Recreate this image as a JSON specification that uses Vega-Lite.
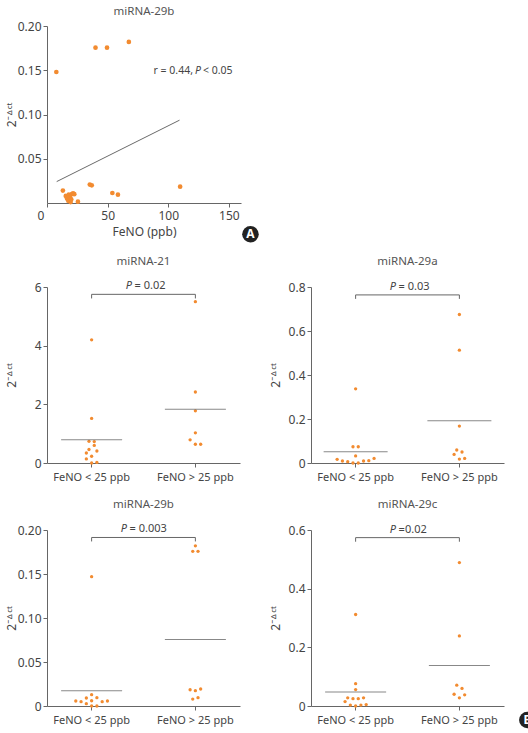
{
  "$schema": "https://vega.github.io/schema/vega-lite/v6.json",
  "datasets": {
    "a": [
      {"feno": 7.7, "v": 0.148}, {"feno": 40, "v": 0.1755}, {"feno": 49.5, "v": 0.1755}, {"feno": 67.5, "v": 0.182},
      {"feno": 13.1, "v": 0.014}, {"feno": 35.3, "v": 0.0208}, {"feno": 36.9, "v": 0.02}, {"feno": 53.9, "v": 0.0113},
      {"feno": 58.5, "v": 0.0094}, {"feno": 109.8, "v": 0.0185}, {"feno": 25.5, "v": 0.0015},
      {"feno": 15.5, "v": 0.008}, {"feno": 16.5, "v": 0.005}, {"feno": 17.5, "v": 0.0025}, {"feno": 18, "v": 0.0095},
      {"feno": 19, "v": 0.006}, {"feno": 19.5, "v": 0.001}, {"feno": 20.5, "v": 0.01}, {"feno": 21.5, "v": 0.011},
      {"feno": 22.5, "v": 0.01}, {"feno": 20, "v": 0.004}
    ],
    "pts": [
      {"m": "miRNA-21", "grp": "FeNO < 25 ppb", "col": 0, "v": 4.2}, {"m": "miRNA-21", "grp": "FeNO < 25 ppb", "col": 0, "v": 1.52},
      {"m": "miRNA-21", "grp": "FeNO < 25 ppb", "col": -1, "v": 0.74}, {"m": "miRNA-21", "grp": "FeNO < 25 ppb", "col": 1, "v": 0.73},
      {"m": "miRNA-21", "grp": "FeNO < 25 ppb", "col": 1, "v": 0.6}, {"m": "miRNA-21", "grp": "FeNO < 25 ppb", "col": -1, "v": 0.46},
      {"m": "miRNA-21", "grp": "FeNO < 25 ppb", "col": -2, "v": 0.34}, {"m": "miRNA-21", "grp": "FeNO < 25 ppb", "col": 2, "v": 0.41},
      {"m": "miRNA-21", "grp": "FeNO < 25 ppb", "col": 0, "v": 0.23}, {"m": "miRNA-21", "grp": "FeNO < 25 ppb", "col": -2, "v": 0.14},
      {"m": "miRNA-21", "grp": "FeNO < 25 ppb", "col": 2, "v": 0.02}, {"m": "miRNA-21", "grp": "FeNO < 25 ppb", "col": 0, "v": 0},
      {"m": "miRNA-21", "grp": "FeNO > 25 ppb", "col": 0, "v": 5.5}, {"m": "miRNA-21", "grp": "FeNO > 25 ppb", "col": 0, "v": 2.42},
      {"m": "miRNA-21", "grp": "FeNO > 25 ppb", "col": 0, "v": 1.78}, {"m": "miRNA-21", "grp": "FeNO > 25 ppb", "col": 0, "v": 1.03},
      {"m": "miRNA-21", "grp": "FeNO > 25 ppb", "col": -2, "v": 0.79}, {"m": "miRNA-21", "grp": "FeNO > 25 ppb", "col": 0, "v": 0.64},
      {"m": "miRNA-21", "grp": "FeNO > 25 ppb", "col": 2, "v": 0.64},
      {"m": "miRNA-29a", "grp": "FeNO < 25 ppb", "col": 0, "v": 0.337}, {"m": "miRNA-29a", "grp": "FeNO < 25 ppb", "col": -1, "v": 0.074},
      {"m": "miRNA-29a", "grp": "FeNO < 25 ppb", "col": 1, "v": 0.074}, {"m": "miRNA-29a", "grp": "FeNO < 25 ppb", "col": 0, "v": 0.032},
      {"m": "miRNA-29a", "grp": "FeNO < 25 ppb", "col": -7, "v": 0.0166}, {"m": "miRNA-29a", "grp": "FeNO < 25 ppb", "col": -5, "v": 0.009},
      {"m": "miRNA-29a", "grp": "FeNO < 25 ppb", "col": -3, "v": 0.006}, {"m": "miRNA-29a", "grp": "FeNO < 25 ppb", "col": -1, "v": 0},
      {"m": "miRNA-29a", "grp": "FeNO < 25 ppb", "col": 1, "v": 0}, {"m": "miRNA-29a", "grp": "FeNO < 25 ppb", "col": 3, "v": 0.009},
      {"m": "miRNA-29a", "grp": "FeNO < 25 ppb", "col": 5, "v": 0.0106}, {"m": "miRNA-29a", "grp": "FeNO < 25 ppb", "col": 7, "v": 0.021},
      {"m": "miRNA-29a", "grp": "FeNO > 25 ppb", "col": 0, "v": 0.675}, {"m": "miRNA-29a", "grp": "FeNO > 25 ppb", "col": 0, "v": 0.513},
      {"m": "miRNA-29a", "grp": "FeNO > 25 ppb", "col": 0, "v": 0.168}, {"m": "miRNA-29a", "grp": "FeNO > 25 ppb", "col": -1, "v": 0.059},
      {"m": "miRNA-29a", "grp": "FeNO > 25 ppb", "col": 1, "v": 0.05}, {"m": "miRNA-29a", "grp": "FeNO > 25 ppb", "col": -2, "v": 0.039},
      {"m": "miRNA-29a", "grp": "FeNO > 25 ppb", "col": 0, "v": 0.018}, {"m": "miRNA-29a", "grp": "FeNO > 25 ppb", "col": 2, "v": 0.021},
      {"m": "miRNA-29b", "grp": "FeNO < 25 ppb", "col": 0, "v": 0.147}, {"m": "miRNA-29b", "grp": "FeNO < 25 ppb", "col": 0, "v": 0.0129},
      {"m": "miRNA-29b", "grp": "FeNO < 25 ppb", "col": -2, "v": 0.0091}, {"m": "miRNA-29b", "grp": "FeNO < 25 ppb", "col": 2, "v": 0.0095},
      {"m": "miRNA-29b", "grp": "FeNO < 25 ppb", "col": 0, "v": 0.006}, {"m": "miRNA-29b", "grp": "FeNO < 25 ppb", "col": -6, "v": 0.0057},
      {"m": "miRNA-29b", "grp": "FeNO < 25 ppb", "col": -4, "v": 0.0049}, {"m": "miRNA-29b", "grp": "FeNO < 25 ppb", "col": -2, "v": 0.0026},
      {"m": "miRNA-29b", "grp": "FeNO < 25 ppb", "col": 4, "v": 0.0049}, {"m": "miRNA-29b", "grp": "FeNO < 25 ppb", "col": 6, "v": 0.0057},
      {"m": "miRNA-29b", "grp": "FeNO < 25 ppb", "col": 0, "v": 0}, {"m": "miRNA-29b", "grp": "FeNO < 25 ppb", "col": 2, "v": 0},
      {"m": "miRNA-29b", "grp": "FeNO > 25 ppb", "col": 0, "v": 0.182}, {"m": "miRNA-29b", "grp": "FeNO > 25 ppb", "col": -1, "v": 0.1758},
      {"m": "miRNA-29b", "grp": "FeNO > 25 ppb", "col": 1, "v": 0.1758}, {"m": "miRNA-29b", "grp": "FeNO > 25 ppb", "col": -2, "v": 0.0185},
      {"m": "miRNA-29b", "grp": "FeNO > 25 ppb", "col": 0, "v": 0.0174}, {"m": "miRNA-29b", "grp": "FeNO > 25 ppb", "col": 2, "v": 0.0193},
      {"m": "miRNA-29b", "grp": "FeNO > 25 ppb", "col": -1, "v": 0.0079}, {"m": "miRNA-29b", "grp": "FeNO > 25 ppb", "col": 1, "v": 0.0095},
      {"m": "miRNA-29c", "grp": "FeNO < 25 ppb", "col": 0, "v": 0.312}, {"m": "miRNA-29c", "grp": "FeNO < 25 ppb", "col": 0, "v": 0.076},
      {"m": "miRNA-29c", "grp": "FeNO < 25 ppb", "col": 0, "v": 0.056}, {"m": "miRNA-29c", "grp": "FeNO < 25 ppb", "col": -3, "v": 0.028},
      {"m": "miRNA-29c", "grp": "FeNO < 25 ppb", "col": -1, "v": 0.025}, {"m": "miRNA-29c", "grp": "FeNO < 25 ppb", "col": 1, "v": 0.025},
      {"m": "miRNA-29c", "grp": "FeNO < 25 ppb", "col": 3, "v": 0.028}, {"m": "miRNA-29c", "grp": "FeNO < 25 ppb", "col": -4, "v": 0.015},
      {"m": "miRNA-29c", "grp": "FeNO < 25 ppb", "col": -2, "v": 0.003}, {"m": "miRNA-29c", "grp": "FeNO < 25 ppb", "col": 0, "v": 0},
      {"m": "miRNA-29c", "grp": "FeNO < 25 ppb", "col": 2, "v": 0.003}, {"m": "miRNA-29c", "grp": "FeNO < 25 ppb", "col": 4, "v": 0.005},
      {"m": "miRNA-29c", "grp": "FeNO > 25 ppb", "col": 0, "v": 0.489}, {"m": "miRNA-29c", "grp": "FeNO > 25 ppb", "col": 0, "v": 0.239},
      {"m": "miRNA-29c", "grp": "FeNO > 25 ppb", "col": -1, "v": 0.071}, {"m": "miRNA-29c", "grp": "FeNO > 25 ppb", "col": 1, "v": 0.06},
      {"m": "miRNA-29c", "grp": "FeNO > 25 ppb", "col": -2, "v": 0.04}, {"m": "miRNA-29c", "grp": "FeNO > 25 ppb", "col": 2, "v": 0.038},
      {"m": "miRNA-29c", "grp": "FeNO > 25 ppb", "col": 0, "v": 0.028}
    ],
    "means": [
      {"m": "miRNA-21", "grp": "FeNO < 25 ppb", "v": 0.79}, {"m": "miRNA-21", "grp": "FeNO > 25 ppb", "v": 1.83},
      {"m": "miRNA-29a", "grp": "FeNO < 25 ppb", "v": 0.051}, {"m": "miRNA-29a", "grp": "FeNO > 25 ppb", "v": 0.192},
      {"m": "miRNA-29b", "grp": "FeNO < 25 ppb", "v": 0.0174}, {"m": "miRNA-29b", "grp": "FeNO > 25 ppb", "v": 0.0756},
      {"m": "miRNA-29c", "grp": "FeNO < 25 ppb", "v": 0.048}, {"m": "miRNA-29c", "grp": "FeNO > 25 ppb", "v": 0.138}
    ],
    "ann": [
      {"m": "miRNA-21", "top": 5.75, "bot": 5.61, "p": "= 0.02"},
      {"m": "miRNA-29a", "top": 0.764, "bot": 0.746, "p": "= 0.03"},
      {"m": "miRNA-29b", "top": 0.1915, "bot": 0.187, "p": "= 0.003"},
      {"m": "miRNA-29c", "top": 0.574, "bot": 0.56, "p": "=0.02"}
    ]
  },
  "config": {
    "view": {"stroke": null},
    "font": "Noto Sans",
    "axis": {"domainColor": "#666", "tickColor": "#666", "labelColor": "#444", "titleColor": "#444", "grid": false, "labelFontSize": 12, "tickSize": 4, "titleFontWeight": "normal", "titleFontSize": 12, "labelPadding": 2},
    "axisX": {"labelAngle": 0},
    "title": {"fontSize": 11.5, "fontWeight": "normal", "color": "#555"}
  },
  "spacing": 12,
  "vconcat": [
    {
      "width": 194, "height": 177,
      "title": {"text": "miRNA-29b", "offset": 3},
      "layer": [
        {"data": {"name": "a"}, "mark": {"type": "circle", "size": 22, "color": "#F28B30", "opacity": 1},
         "encoding": {
           "x": {"field": "feno", "type": "quantitative", "scale": {"domain": [0, 150]},
                 "axis": {"values": [0, 50, 100, 150], "title": "FeNO (ppb)", "labelPadding": 3, "titlePadding": 5,
                          "labelOffset": {"condition": {"test": "datum.value == 0", "value": -10}, "value": 0}}},
           "y": {"field": "v", "type": "quantitative", "scale": {"domain": [0, 0.2]},
                 "axis": {"values": [0.05, 0.1, 0.15, 0.2], "format": ".2f", "title": "2⁻ᐞᶜᵗ", "titleX": -32, "titleBaseline": "alphabetic"}}}},
        {"data": {"values": [{}]}, "mark": {"type": "rule", "color": "#444", "strokeWidth": 0.8},
         "encoding": {"x": {"datum": 8, "type": "quantitative"}, "x2": {"datum": 109.3}, "y": {"datum": 0.0242, "type": "quantitative"}, "y2": {"datum": 0.0936}}},
        {"data": {"values": [{}]}, "mark": {"type": "text", "text": "r = 0.44,", "align": "right", "dx": -5, "baseline": "middle", "fontSize": 10.5, "color": "#444"},
         "encoding": {"x": {"datum": 124.5, "type": "quantitative"}, "y": {"datum": 0.149, "type": "quantitative"}}},
        {"data": {"values": [{}]}, "mark": {"type": "text", "text": "P", "fontStyle": "italic", "align": "center", "baseline": "middle", "fontSize": 10.5, "color": "#444"},
         "encoding": {"x": {"datum": 124.5, "type": "quantitative"}, "y": {"datum": 0.149, "type": "quantitative"}}},
        {"data": {"values": [{}]}, "mark": {"type": "text", "text": "< 0.05", "align": "left", "dx": 5, "baseline": "middle", "fontSize": 10.5, "color": "#444"},
         "encoding": {"x": {"datum": 124.5, "type": "quantitative"}, "y": {"datum": 0.149, "type": "quantitative"}}},
        {"data": {"values": [{}]}, "mark": {"type": "circle", "size": 275, "color": "#222", "opacity": 1},
         "encoding": {"x": {"datum": 167.8, "type": "quantitative"}, "y": {"datum": -0.0353, "type": "quantitative"}}},
        {"data": {"values": [{}]}, "mark": {"type": "text", "text": "A", "fontWeight": "bold", "fontSize": 12, "color": "white", "align": "center", "baseline": "middle"},
         "encoding": {"x": {"datum": 167.8, "type": "quantitative"}, "y": {"datum": -0.0353, "type": "quantitative"}}}
      ]
    },
    {
      "spacing": 16,
      "vconcat": [
        {
          "spacing": 29,
          "hconcat": [
            {
              "width": 193, "height": 176,
              "title": {"text": "miRNA-21", "offset": 13},
              "layer": [
                {"data": {"name": "pts"}, "transform": [{"filter": "datum.m == 'miRNA-21'"}],
                 "mark": {"type": "circle", "size": 11, "color": "#F28B30", "opacity": 1},
                 "encoding": {
                   "x": {"field": "grp", "type": "nominal", "scale": {"type": "band", "paddingInner": 0.5, "paddingOuter": 0.18},
                         "axis": {"title": null, "labelFontSize": 11, "labelPadding": 4}},
                   "xOffset": {"field": "col", "type": "quantitative", "scale": {"domain": [-9.83, 9.83]}},
                   "y": {"field": "v", "type": "quantitative", "scale": {"domain": [0, 6]},
                         "axis": {"values": [0, 2, 4, 6], "title": "2⁻ᐞᶜᵗ", "titleX": -32, "titleBaseline": "alphabetic"}}}},
                {"data": {"name": "means"}, "transform": [{"filter": "datum.m == 'miRNA-21'"}],
                 "mark": {"type": "tick", "size": 61, "thickness": 1, "color": "#555"},
                 "encoding": {"x": {"field": "grp", "type": "nominal"}, "y": {"field": "v", "type": "quantitative"}}},
                {"data": {"name": "ann"}, "transform": [{"filter": "datum.m == 'miRNA-21'"}],
                 "mark": {"type": "rule", "color": "#666", "strokeWidth": 1},
                 "encoding": {"x": {"datum": "FeNO < 25 ppb", "type": "nominal"}, "x2": {"datum": "FeNO > 25 ppb"}, "y": {"field": "top", "type": "quantitative"}}},
                {"data": {"name": "ann"}, "transform": [{"filter": "datum.m == 'miRNA-21'"}],
                 "mark": {"type": "rule", "color": "#666", "strokeWidth": 1},
                 "encoding": {"x": {"datum": "FeNO < 25 ppb", "type": "nominal"}, "y": {"field": "top", "type": "quantitative"}, "y2": {"field": "bot"}}},
                {"data": {"name": "ann"}, "transform": [{"filter": "datum.m == 'miRNA-21'"}],
                 "mark": {"type": "rule", "color": "#666", "strokeWidth": 1},
                 "encoding": {"x": {"datum": "FeNO > 25 ppb", "type": "nominal"}, "y": {"field": "top", "type": "quantitative"}, "y2": {"field": "bot"}}},
                {"data": {"name": "ann"}, "transform": [{"filter": "datum.m == 'miRNA-21'"}],
                 "mark": {"type": "text", "text": "P", "fontStyle": "italic", "align": "right", "dx": 40.5, "dy": -8, "baseline": "middle", "fontSize": 11, "color": "#444"},
                 "encoding": {"x": {"datum": "FeNO < 25 ppb", "type": "nominal"}, "y": {"field": "top", "type": "quantitative"}}},
                {"data": {"name": "ann"}, "transform": [{"filter": "datum.m == 'miRNA-21'"}],
                 "mark": {"type": "text", "align": "left", "dx": 43, "dy": -8, "baseline": "middle", "fontSize": 11, "color": "#444"},
                 "encoding": {"x": {"datum": "FeNO < 25 ppb", "type": "nominal"}, "y": {"field": "top", "type": "quantitative"}, "text": {"field": "p"}}}
              ]
            },
            {
              "width": 193, "height": 176,
              "title": {"text": "miRNA-29a", "offset": 13},
              "layer": [
                {"data": {"name": "pts"}, "transform": [{"filter": "datum.m == 'miRNA-29a'"}],
                 "mark": {"type": "circle", "size": 11, "color": "#F28B30", "opacity": 1},
                 "encoding": {
                   "x": {"field": "grp", "type": "nominal", "scale": {"type": "band", "paddingInner": 0.5, "paddingOuter": 0.18},
                         "axis": {"title": null, "labelFontSize": 11, "labelPadding": 4}},
                   "xOffset": {"field": "col", "type": "quantitative", "scale": {"domain": [-9.83, 9.83]}},
                   "y": {"field": "v", "type": "quantitative", "scale": {"domain": [0, 0.8]},
                         "axis": {"values": [0, 0.2, 0.4, 0.6, 0.8], "labelExpr": "datum.value == 0 ? '0' : format(datum.value, '.1f')", "title": "2⁻ᐞᶜᵗ", "titleX": -32, "titleBaseline": "alphabetic"}}}},
                {"data": {"name": "means"}, "transform": [{"filter": "datum.m == 'miRNA-29a'"}],
                 "mark": {"type": "tick", "size": 64, "thickness": 1, "color": "#555"},
                 "encoding": {"x": {"field": "grp", "type": "nominal"}, "y": {"field": "v", "type": "quantitative"}}},
                {"data": {"name": "ann"}, "transform": [{"filter": "datum.m == 'miRNA-29a'"}],
                 "mark": {"type": "rule", "color": "#666", "strokeWidth": 1},
                 "encoding": {"x": {"datum": "FeNO < 25 ppb", "type": "nominal"}, "x2": {"datum": "FeNO > 25 ppb"}, "y": {"field": "top", "type": "quantitative"}}},
                {"data": {"name": "ann"}, "transform": [{"filter": "datum.m == 'miRNA-29a'"}],
                 "mark": {"type": "rule", "color": "#666", "strokeWidth": 1},
                 "encoding": {"x": {"datum": "FeNO < 25 ppb", "type": "nominal"}, "y": {"field": "top", "type": "quantitative"}, "y2": {"field": "bot"}}},
                {"data": {"name": "ann"}, "transform": [{"filter": "datum.m == 'miRNA-29a'"}],
                 "mark": {"type": "rule", "color": "#666", "strokeWidth": 1},
                 "encoding": {"x": {"datum": "FeNO > 25 ppb", "type": "nominal"}, "y": {"field": "top", "type": "quantitative"}, "y2": {"field": "bot"}}},
                {"data": {"name": "ann"}, "transform": [{"filter": "datum.m == 'miRNA-29a'"}],
                 "mark": {"type": "text", "text": "P", "fontStyle": "italic", "align": "right", "dx": 40.5, "dy": -8, "baseline": "middle", "fontSize": 11, "color": "#444"},
                 "encoding": {"x": {"datum": "FeNO < 25 ppb", "type": "nominal"}, "y": {"field": "top", "type": "quantitative"}}},
                {"data": {"name": "ann"}, "transform": [{"filter": "datum.m == 'miRNA-29a'"}],
                 "mark": {"type": "text", "align": "left", "dx": 43, "dy": -8, "baseline": "middle", "fontSize": 11, "color": "#444"},
                 "encoding": {"x": {"datum": "FeNO < 25 ppb", "type": "nominal"}, "y": {"field": "top", "type": "quantitative"}, "text": {"field": "p"}}}
              ]
            }
          ]
        },
        {
          "spacing": 29,
          "hconcat": [
            {
              "width": 193, "height": 176,
              "title": {"text": "miRNA-29b", "offset": 13},
              "layer": [
                {"data": {"name": "pts"}, "transform": [{"filter": "datum.m == 'miRNA-29b'"}],
                 "mark": {"type": "circle", "size": 11, "color": "#F28B30", "opacity": 1},
                 "encoding": {
                   "x": {"field": "grp", "type": "nominal", "scale": {"type": "band", "paddingInner": 0.5, "paddingOuter": 0.18},
                         "axis": {"title": null, "labelFontSize": 11, "labelPadding": 4}},
                   "xOffset": {"field": "col", "type": "quantitative", "scale": {"domain": [-9.83, 9.83]}},
                   "y": {"field": "v", "type": "quantitative", "scale": {"domain": [0, 0.2]},
                         "axis": {"values": [0, 0.05, 0.1, 0.15, 0.2], "labelExpr": "datum.value == 0 ? '0' : format(datum.value, '.2f')", "title": "2⁻ᐞᶜᵗ", "titleX": -32, "titleBaseline": "alphabetic"}}}},
                {"data": {"name": "means"}, "transform": [{"filter": "datum.m == 'miRNA-29b'"}],
                 "mark": {"type": "tick", "size": 61, "thickness": 1, "color": "#555"},
                 "encoding": {"x": {"field": "grp", "type": "nominal"}, "y": {"field": "v", "type": "quantitative"}}},
                {"data": {"name": "ann"}, "transform": [{"filter": "datum.m == 'miRNA-29b'"}],
                 "mark": {"type": "rule", "color": "#666", "strokeWidth": 1},
                 "encoding": {"x": {"datum": "FeNO < 25 ppb", "type": "nominal"}, "x2": {"datum": "FeNO > 25 ppb"}, "y": {"field": "top", "type": "quantitative"}}},
                {"data": {"name": "ann"}, "transform": [{"filter": "datum.m == 'miRNA-29b'"}],
                 "mark": {"type": "rule", "color": "#666", "strokeWidth": 1},
                 "encoding": {"x": {"datum": "FeNO < 25 ppb", "type": "nominal"}, "y": {"field": "top", "type": "quantitative"}, "y2": {"field": "bot"}}},
                {"data": {"name": "ann"}, "transform": [{"filter": "datum.m == 'miRNA-29b'"}],
                 "mark": {"type": "rule", "color": "#666", "strokeWidth": 1},
                 "encoding": {"x": {"datum": "FeNO > 25 ppb", "type": "nominal"}, "y": {"field": "top", "type": "quantitative"}, "y2": {"field": "bot"}}},
                {"data": {"name": "ann"}, "transform": [{"filter": "datum.m == 'miRNA-29b'"}],
                 "mark": {"type": "text", "text": "P", "fontStyle": "italic", "align": "right", "dx": 35.5, "dy": -8, "baseline": "middle", "fontSize": 11, "color": "#444"},
                 "encoding": {"x": {"datum": "FeNO < 25 ppb", "type": "nominal"}, "y": {"field": "top", "type": "quantitative"}}},
                {"data": {"name": "ann"}, "transform": [{"filter": "datum.m == 'miRNA-29b'"}],
                 "mark": {"type": "text", "align": "left", "dx": 38, "dy": -8, "baseline": "middle", "fontSize": 11, "color": "#444"},
                 "encoding": {"x": {"datum": "FeNO < 25 ppb", "type": "nominal"}, "y": {"field": "top", "type": "quantitative"}, "text": {"field": "p"}}}
              ]
            },
            {
              "width": 193, "height": 176,
              "title": {"text": "miRNA-29c", "offset": 13},
              "layer": [
                {"data": {"name": "pts"}, "transform": [{"filter": "datum.m == 'miRNA-29c'"}],
                 "mark": {"type": "circle", "size": 11, "color": "#F28B30", "opacity": 1},
                 "encoding": {
                   "x": {"field": "grp", "type": "nominal", "scale": {"type": "band", "paddingInner": 0.5, "paddingOuter": 0.18},
                         "axis": {"title": null, "labelFontSize": 11, "labelPadding": 4}},
                   "xOffset": {"field": "col", "type": "quantitative", "scale": {"domain": [-9.83, 9.83]}},
                   "y": {"field": "v", "type": "quantitative", "scale": {"domain": [0, 0.6]},
                         "axis": {"values": [0, 0.2, 0.4, 0.6], "labelExpr": "datum.value == 0 ? '0' : format(datum.value, '.1f')", "title": "2⁻ᐞᶜᵗ", "titleX": -32, "titleBaseline": "alphabetic"}}}},
                {"data": {"name": "means"}, "transform": [{"filter": "datum.m == 'miRNA-29c'"}],
                 "mark": {"type": "tick", "size": 61, "thickness": 1, "color": "#555"},
                 "encoding": {"x": {"field": "grp", "type": "nominal"}, "y": {"field": "v", "type": "quantitative"}}},
                {"data": {"name": "ann"}, "transform": [{"filter": "datum.m == 'miRNA-29c'"}],
                 "mark": {"type": "rule", "color": "#666", "strokeWidth": 1},
                 "encoding": {"x": {"datum": "FeNO < 25 ppb", "type": "nominal"}, "x2": {"datum": "FeNO > 25 ppb"}, "y": {"field": "top", "type": "quantitative"}}},
                {"data": {"name": "ann"}, "transform": [{"filter": "datum.m == 'miRNA-29c'"}],
                 "mark": {"type": "rule", "color": "#666", "strokeWidth": 1},
                 "encoding": {"x": {"datum": "FeNO < 25 ppb", "type": "nominal"}, "y": {"field": "top", "type": "quantitative"}, "y2": {"field": "bot"}}},
                {"data": {"name": "ann"}, "transform": [{"filter": "datum.m == 'miRNA-29c'"}],
                 "mark": {"type": "rule", "color": "#666", "strokeWidth": 1},
                 "encoding": {"x": {"datum": "FeNO > 25 ppb", "type": "nominal"}, "y": {"field": "top", "type": "quantitative"}, "y2": {"field": "bot"}}},
                {"data": {"name": "ann"}, "transform": [{"filter": "datum.m == 'miRNA-29c'"}],
                 "mark": {"type": "text", "text": "P", "fontStyle": "italic", "align": "right", "dx": 40.5, "dy": -8, "baseline": "middle", "fontSize": 11, "color": "#444"},
                 "encoding": {"x": {"datum": "FeNO < 25 ppb", "type": "nominal"}, "y": {"field": "top", "type": "quantitative"}}},
                {"data": {"name": "ann"}, "transform": [{"filter": "datum.m == 'miRNA-29c'"}],
                 "mark": {"type": "text", "align": "left", "dx": 43, "dy": -8, "baseline": "middle", "fontSize": 11, "color": "#444"},
                 "encoding": {"x": {"datum": "FeNO < 25 ppb", "type": "nominal"}, "y": {"field": "top", "type": "quantitative"}, "text": {"field": "p"}}},
                {"data": {"values": [{}]}, "mark": {"type": "circle", "size": 275, "color": "#222", "opacity": 1, "xOffset": 68},
                 "encoding": {"x": {"datum": "FeNO > 25 ppb", "type": "nominal"}, "y": {"datum": -0.0477, "type": "quantitative"}}},
                {"data": {"values": [{}]}, "mark": {"type": "text", "text": "B", "fontWeight": "bold", "fontSize": 12, "color": "white", "align": "center", "baseline": "middle", "dx": 68},
                 "encoding": {"x": {"datum": "FeNO > 25 ppb", "type": "nominal"}, "y": {"datum": -0.0477, "type": "quantitative"}}}
              ]
            }
          ]
        }
      ]
    }
  ]
}
